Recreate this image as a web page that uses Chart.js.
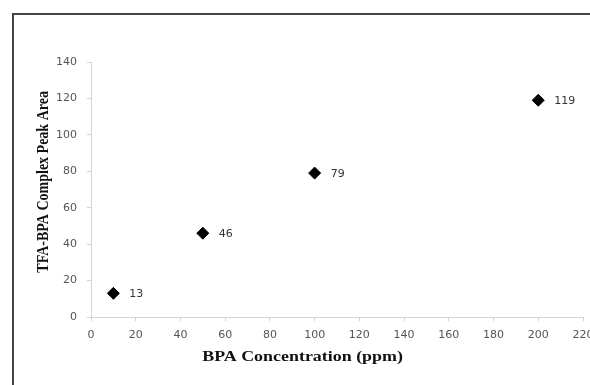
<!DOCTYPE html>
<html>
<head>
<meta charset="utf-8">
<script src="https://cdn.jsdelivr.net/npm/chart.js@4"></script>
<style>
  html, body { margin: 0; padding: 0; background: #fff; overflow: hidden; }
  #wrap { position: relative; width: 610px; height: 385px; }
  #frame { position: absolute; left: 12px; top: 13px; right: 0; bottom: 0;
           border-left: 2px solid #444; border-top: 2px solid #444; }
  canvas { position: absolute; left: 0; top: 0; }
</style>
</head>
<body>
<div id="wrap">
  <div id="frame"></div>
  <canvas id="scatter" width="610" height="385"></canvas>
</div>
<script>
// BPA concentration (ppm) vs. TFA-BPA complex peak area
var concentration = [10, 50, 100, 200];
var peakArea = [13, 46, 79, 119];

var xTitle = "BPA Concentration (ppm)";
var yTitle = "TFA-BPA Complex Peak Area";

var tickFont = { family: "DejaVu Sans", size: 11 };

// value labels to the right of each diamond
var valueLabels = {
    id: "valueLabels",
    afterDatasetsDraw: function(chart) {
        var ctx = chart.ctx;
        var meta = chart.getDatasetMeta(0);
        ctx.save();
        ctx.font = "11px 'DejaVu Sans'";
        ctx.fillStyle = "#333";
        ctx.textAlign = "left";
        ctx.textBaseline = "middle";
        meta.data.forEach(function(pt, i) {
            ctx.fillText(String(peakArea[i]), pt.x + 16, pt.y + 1);
        });
        ctx.restore();
    }
};

// axis titles: serif bold, drawn a little wide, x title set left of centre
var axisTitles = {
    id: "axisTitles",
    afterDraw: function(chart) {
        var area = chart.chartArea;
        var ctx = chart.ctx;
        ctx.save();
        ctx.font = "bold 14px 'Liberation Serif'";
        ctx.fillStyle = "#111";
        ctx.textAlign = "center";
        ctx.textBaseline = "middle";

        ctx.save();
        ctx.translate(area.left + area.width * 0.43, area.bottom + 40);
        ctx.scale(1.28, 1);
        ctx.fillText(xTitle, 0, 0);
        ctx.restore();

        ctx.save();
        ctx.translate(44, area.top + area.height * 0.47);
        ctx.rotate(-Math.PI / 2);
        ctx.scale(1, 1.2);
        ctx.fillText(yTitle, 0, 0);
        ctx.restore();

        ctx.restore();
    }
};

new Chart(document.getElementById("scatter"), {
    type: "scatter",
    data: {
        datasets: [{
            data: concentration.map(function(x, i) { return { x: x, y: peakArea[i] }; }),
            pointStyle: "rectRot",
            pointRadius: 6,
            pointHoverRadius: 6,
            backgroundColor: "#000",
            borderColor: "#000",
            borderWidth: 1
        }]
    },
    options: {
        responsive: false,
        animation: false,
        devicePixelRatio: 1,
        layout: { padding: { left: 0, top: 62, right: 27, bottom: 0 } },
        plugins: {
            legend: { display: false },
            tooltip: { enabled: false }
        },
        scales: {
            x: {
                type: "linear",
                min: 0,
                max: 220,
                afterFit: function(scale) { scale.height = 68; },
                border: { display: true, color: "#d4d4d4", width: 1 },
                grid: { drawOnChartArea: false, drawTicks: true, tickLength: 4, color: "#d4d4d4" },
                ticks: { stepSize: 20, color: "#555", font: tickFont, padding: 8, maxRotation: 0 }
            },
            y: {
                min: 0,
                max: 140,
                afterFit: function(scale) { scale.width = 91; },
                border: { display: true, color: "#d4d4d4", width: 1 },
                grid: { drawOnChartArea: false, drawTicks: true, tickLength: 4, color: "#d4d4d4" },
                ticks: { stepSize: 20, color: "#555", font: tickFont, padding: 10 }
            }
        }
    },
    plugins: [valueLabels, axisTitles]
});
</script>
</body>
</html>
